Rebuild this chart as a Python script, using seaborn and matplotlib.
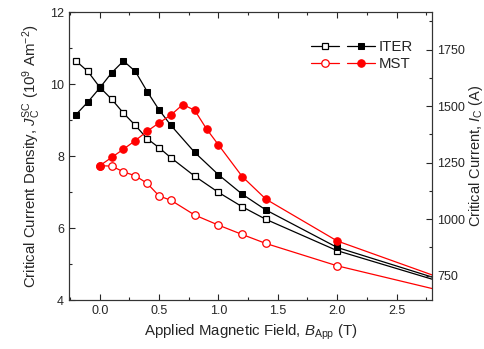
import numpy as np
import pandas as pd
import matplotlib
matplotlib.use("Agg")
import matplotlib.pyplot as plt
from matplotlib.ticker import MultipleLocator
from matplotlib.legend_handler import HandlerTuple
import seaborn as sns

# values (B in T, Jc in 10^9 A/m^2)
b_iter = [-0.2, -0.1, 0.0, 0.1, 0.2, 0.3, 0.4, 0.5, 0.6, 0.8, 1.0, 1.2, 1.4, 2.0, 3.0]
iter_open = [10.64, 10.35, 9.91, 9.58, 9.19, 8.85, 8.48, 8.23, 7.95, 7.44, 6.99, 6.59, 6.24, 5.37, 4.38]
iter_fill = [9.15, 9.50, 9.89, 10.31, 10.64, 10.35, 9.79, 9.28, 8.85, 8.10, 7.48, 6.94, 6.50, 5.46, 4.43]

b_mst_open = [0.0, 0.1, 0.2, 0.3, 0.4, 0.5, 0.6, 0.8, 1.0, 1.2, 1.4, 2.0, 3.0]
mst_open = [7.73, 7.72, 7.56, 7.45, 7.24, 6.89, 6.77, 6.36, 6.08, 5.82, 5.57, 4.95, 4.16]
b_mst_fill = [0.0, 0.1, 0.2, 0.3, 0.4, 0.5, 0.6, 0.7, 0.8, 0.9, 1.0, 1.2, 1.4, 2.0, 3.0]
mst_fill = [7.73, 7.96, 8.19, 8.43, 8.69, 8.92, 9.14, 9.43, 9.27, 8.75, 8.31, 7.43, 6.80, 5.64, 4.46]

sns.set_theme(style="ticks")
plt.rcParams["font.family"] = ["Liberation Sans", "DejaVu Sans"]
plt.rcParams["mathtext.fontset"] = "custom"
plt.rcParams["mathtext.rm"] = "Liberation Sans"
plt.rcParams["mathtext.it"] = "Liberation Sans:italic"

fig = plt.figure(figsize=(4.85, 3.49), dpi=100)
ax = fig.add_axes([0.142, 0.1404, 0.749, 0.8252])

red = "#ff0000"
sns.lineplot(x=b_iter, y=iter_open, ax=ax, color="black", lw=0.9, marker="s", ms=4.6,
             markerfacecolor="white", markeredgecolor="black", markeredgewidth=0.9)
sns.lineplot(x=b_iter, y=iter_fill, ax=ax, color="black", lw=0.9, marker="s", ms=4.6,
             markerfacecolor="black", markeredgecolor="black")
sns.lineplot(x=b_mst_open, y=mst_open, ax=ax, color=red, lw=0.9, marker="o", ms=5.4,
             markerfacecolor="white", markeredgecolor=red, markeredgewidth=0.9)
sns.lineplot(x=b_mst_fill, y=mst_fill, ax=ax, color=red, lw=0.9, marker="o", ms=5.4,
             markerfacecolor=red, markeredgecolor=red)
lines = ax.get_lines()

ax.set_xlim(-0.26, 2.8)
ax.set_ylim(4, 12)
ax.xaxis.set_major_locator(MultipleLocator(0.5))
ax.xaxis.set_minor_locator(MultipleLocator(0.25))
ax.yaxis.set_major_locator(MultipleLocator(2))
ax.yaxis.set_minor_locator(MultipleLocator(1))
ax.tick_params(which="both", direction="in", top=True, right=False, labelsize=9, width=0.8)
ax.tick_params(which="major", length=4)
ax.tick_params(which="minor", length=2.5)
ax.set_xlabel(r"Applied Magnetic Field, $B_{\mathrm{App}}$ (T)", fontsize=10.8, labelpad=4)
ax.set_ylabel(r"Critical Current Density, $J_{\mathrm{C}}^{\mathrm{SC}}$ ($10^{9}$ Am$^{-2}$)",
              fontsize=10.8, labelpad=5)

ax2 = ax.twinx()
ax2.set_ylim(642, 1916)
ax2.yaxis.set_major_locator(MultipleLocator(250))
ax2.yaxis.set_minor_locator(MultipleLocator(125))
ax2.tick_params(which="both", direction="in", labelsize=9, width=0.8)
ax2.tick_params(which="major", length=4)
ax2.tick_params(which="minor", length=2.5)
ax2.set_ylabel(r"Critical Current, $I_{\mathrm{C}}$ (A)", fontsize=10.5, labelpad=1.5)
ax2.set_yticks([750, 1000, 1250, 1500, 1750])

for a in (ax, ax2):
    for s in a.spines.values():
        s.set_linewidth(0.8)
        s.set_color("#333333")

leg = ax2.legend([(lines[0], lines[1]), (lines[2], lines[3])], ["ITER", "MST"],
                 handler_map={tuple: HandlerTuple(ndivide=None, pad=0.5)},
                 loc="upper right", bbox_to_anchor=(0.852, 0.884),
                 bbox_transform=fig.transFigure, frameon=False, fontsize=10.8,
                 handlelength=4.3, handletextpad=0.25, labelspacing=0.2,
                 borderaxespad=0, borderpad=0)

fig.savefig("out.png", dpi=100)
